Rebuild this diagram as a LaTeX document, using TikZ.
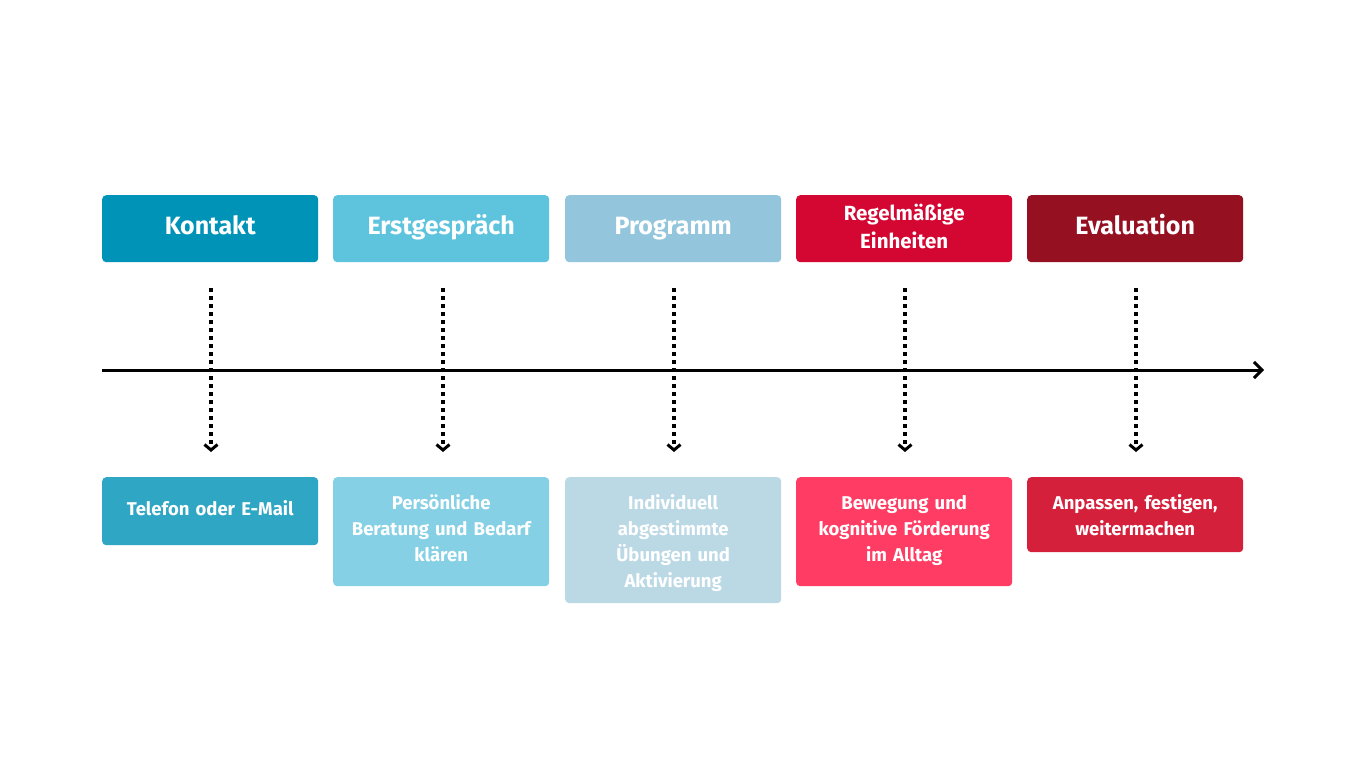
\documentclass[tikz,border=0pt]{standalone}
\usepackage{fontspec}
\setmainfont{Fira Sans}
\usetikzlibrary{arrows.meta}
\definecolor{aT}{HTML}{0093B8}
\definecolor{aB}{HTML}{2EA6C4}
\definecolor{bT}{HTML}{5EC4DE}
\definecolor{bB}{HTML}{85D0E5}
\definecolor{cT}{HTML}{93C6DC}
\definecolor{cB}{HTML}{BBD9E5}
\definecolor{dT}{HTML}{D30732}
\definecolor{dB}{HTML}{FF3D64}
\definecolor{eT}{HTML}{951122}
\definecolor{eB}{HTML}{D4203B}
\begin{document}
\begin{tikzpicture}[x=1pt,y=-1pt,
  topbox/.style={rounded corners=4pt, minimum width=216pt, minimum height=67pt, text=white, align=center, inner sep=0pt, anchor=north west, font=\bfseries\fontsize{25}{28}\selectfont},
  oneline/.style={text height=17pt, text depth=5pt},
  topsmall/.style={font=\bfseries\fontsize{20.5}{28}\selectfont},
  botbox/.style={rounded corners=4pt, minimum width=216pt, inner sep=0pt, anchor=north west},
  bottext/.style={text width=206pt, text=white, align=center, inner sep=0pt, font=\bfseries\fontsize{18.5}{26}\selectfont},
  dotarrow/.style={line width=3.5pt, dash pattern=on 4pt off 4pt, -{Straight Barb[length=5.5pt,width=13pt,line width=3pt]}},
  timeline/.style={line width=3pt, -{Straight Barb[length=8pt,width=16pt,line width=3pt]}}
]
\fill[white] (0,0) rectangle (1366,768);
\useasboundingbox (0,0) rectangle (1366,768);

\node[topbox, oneline, fill=aT] (t1) at (102,195) {Kontakt};
\node[topbox, oneline, fill=bT] (t2) at (333,195) {Erstgespräch};
\node[topbox, oneline, fill=cT] (t3) at (565,195) {Programm};
\node[topbox, fill=dT] (t4) at (796,195) {};
\node[topbox, topsmall, fill=none] (t4t) at ([yshift=2pt]t4.center) [anchor=center, minimum width=0pt, minimum height=0pt] {Regelmäßige\\Einheiten};
\node[topbox, oneline, fill=eT] (t5) at (1027,195) {Evaluation};

\node[botbox, fill=aB, minimum height=68pt] (b1) at (102,477) {};
\node[bottext] (b1t) at ([yshift=3pt]b1.center) {Telefon oder E-Mail};
\node[botbox, fill=bB, minimum height=109pt] (b2) at (333,477) {};
\node[bottext] (b2t) at ([yshift=4pt]b2.center) {Persönliche\\Beratung und Bedarf\\klären};
\node[botbox, fill=cB, minimum height=126pt] (b3) at (565,477) {};
\node[bottext] (b3t) at ([yshift=-3pt]b3.center) {Individuell\\abgestimmte\\Übungen und\\Aktivierung};
\node[botbox, fill=dB, minimum height=109pt] (b4) at (796,477) {};
\node[bottext] (b4t) at ([yshift=1pt]b4.center) {Bewegung und\\kognitive Förderung\\im Alltag};
\node[botbox, fill=eB, minimum height=75pt] (b5) at (1027,477) {};
\node[bottext] (b5t) at (b5.center) {Anpassen, festigen,\\weitermachen};

\coordinate (ls) at (102,370);
\coordinate (le) at (1264,370);
\draw[timeline] (ls) -- (le);

\foreach \i/\x in {1/211,2/443,3/674,4/905,5/1136}{
  \coordinate (s\i) at (\x,288);
  \coordinate (e\i) at (\x,452);
  \draw[dotarrow] (s\i) -- (e\i);
}
\end{tikzpicture}
\end{document}
